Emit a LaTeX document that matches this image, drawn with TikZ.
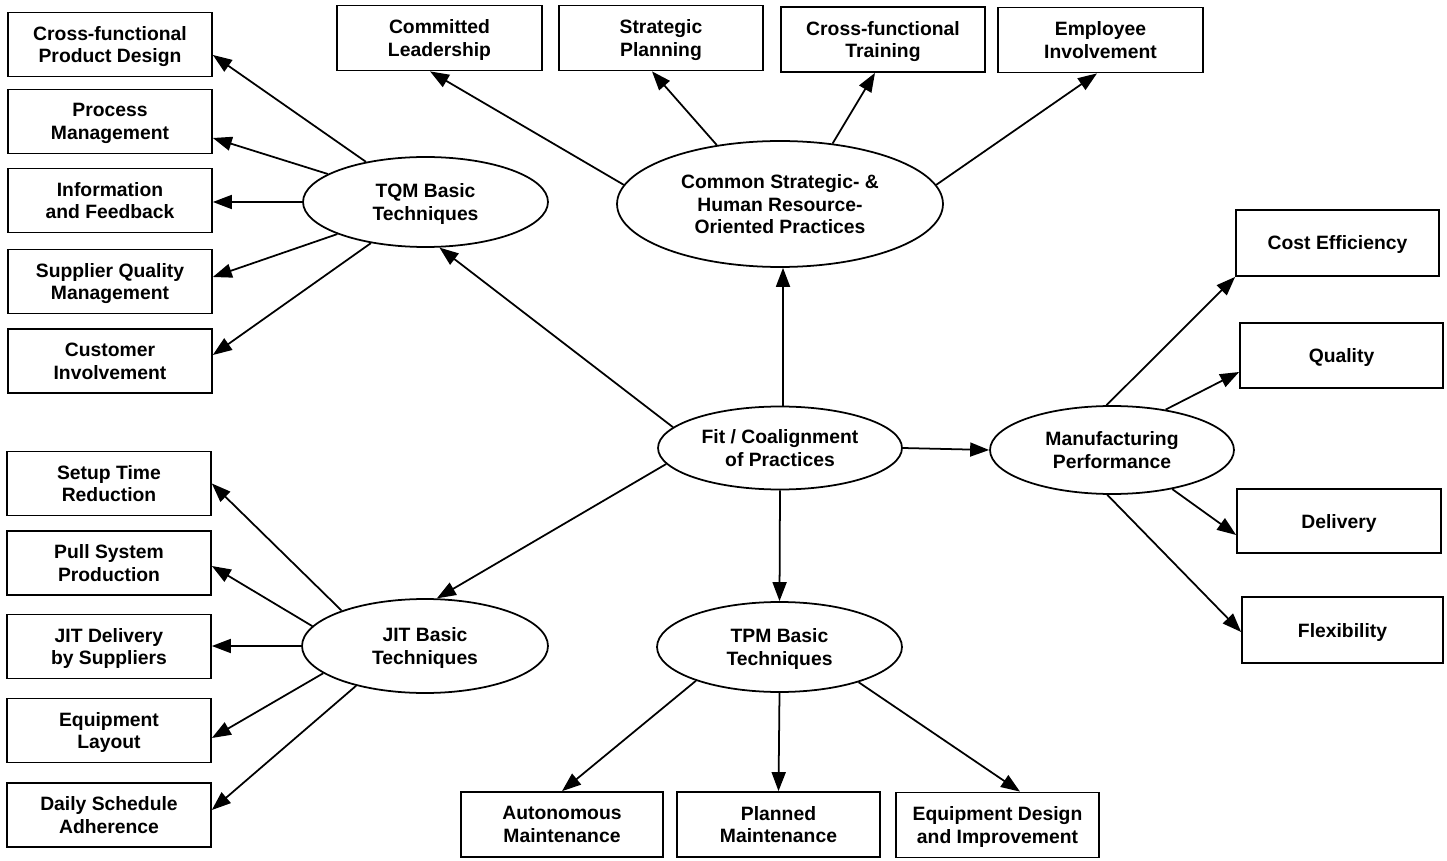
\documentclass[tikz,border=0pt]{standalone}
\usepackage{fontspec}
\setmainfont{Liberation Sans}
\usetikzlibrary{arrows.meta,calc,shapes.geometric}
\begin{document}
\begin{tikzpicture}[x=0.02cm,y=-0.02cm,
  every node/.style={font=\fontsize{11}{13}\selectfont\bfseries, align=center, text depth=0pt},
  box/.style={draw, line width=1pt, rectangle, minimum width=4.08cm, minimum height=1.28cm, inner sep=0pt},
  ell/.style={draw, line width=1pt, ellipse, inner sep=0pt},
  arr/.style={line width=1pt, -{Triangle[length=0.38cm,width=0.28cm]}}
]
\useasboundingbox (0,0) rectangle (1447,861);

% ellipses
\node[ell, minimum width=4.9cm, minimum height=1.8cm] (tqm) at (425.5,202) {TQM Basic\\Techniques};
\node[ell, minimum width=6.52cm, minimum height=2.52cm] (com) at (780,204) {Common Strategic- \&\\Human Resource-\\Oriented Practices};
\node[ell, minimum width=4.88cm, minimum height=1.66cm] (fit) at (780,448) {Fit / Coalignment\\of Practices};
\node[ell, minimum width=4.88cm, minimum height=1.76cm] (mfg) at (1112,450) {Manufacturing\\Performance};
\node[ell, minimum width=4.92cm, minimum height=1.88cm] (jit) at (425,646) {JIT Basic\\Techniques};
\node[ell, minimum width=4.9cm, minimum height=1.8cm] (tpm) at (779.5,647) {TPM Basic\\Techniques};

% TQM boxes
\node[box] (cfpd) at (110,44.5) {Cross-functional\\Product Design};
\node[box] (pm) at (110,121.5) {Process\\Management};
\node[box] (inf) at (110,200.5) {Information\\and Feedback};
\node[box] (sqm) at (110,281.5) {Supplier Quality\\Management};
\node[box] (ci) at (110,361) {Customer\\Involvement};

% JIT boxes
\node[box] (str) at (109,483.5) {Setup Time\\Reduction};
\node[box] (psp) at (109,563) {Pull System\\Production};
\node[box] (jitd) at (109,646.5) {JIT Delivery\\by Suppliers};
\node[box] (el) at (109,730.5) {Equipment\\Layout};
\node[box] (dsa) at (109,815) {Daily Schedule\\Adherence};

% top boxes
\node[box, minimum width=4.1cm, minimum height=1.3cm] (cl) at (439.5,38) {Committed\\Leadership};
\node[box, minimum width=4.08cm, minimum height=1.3cm] (sp) at (661,38) {Strategic\\Planning};
\node[box, minimum width=4.08cm, minimum height=1.3cm] (cft) at (883,39.5) {Cross-functional\\Training};
\node[box, minimum width=4.1cm, minimum height=1.3cm] (ei) at (1100.5,40) {Employee\\Involvement};

% right boxes
\node[box, minimum width=4.06cm, minimum height=1.32cm] (ce) at (1337.5,243) {Cost Efficiency};
\node[box, minimum width=4.06cm, minimum height=1.3cm] (q) at (1341.5,355.5) {Quality};
\node[box, minimum width=4.08cm, minimum height=1.28cm] (d) at (1339,521) {Delivery};
\node[box, minimum width=4.02cm, minimum height=1.32cm] (f) at (1342.5,630) {Flexibility};

% bottom boxes
\node[box, minimum width=4.04cm, minimum height=1.3cm] (am) at (562,824.5) {Autonomous\\Maintenance};
\node[box, minimum width=4.06cm, minimum height=1.3cm] (pmn) at (778.5,824.5) {Planned\\Maintenance};
\node[box, minimum width=4.06cm, minimum height=1.3cm] (edi) at (997.5,825) {Equipment Design\\and Improvement};

% TQM arrows
\draw[arr] (tqm.146.5) -- ($(cfpd.east)+(0,10.5)$);
\draw[arr] (tqm.164.3) -- ($(pm.east)+(0,16.5)$);
\draw[arr] (tqm.west) -- (tqm.west -| inf.east);
\draw[arr] (tqm.200.4) -- ($(sqm.east)+(0,-4.5)$);
\draw[arr] (tqm.217.5) -- ($(ci.east)+(0,-6)$);

% JIT arrows
\draw[arr] (jit.157.7) -- (str.east);
\draw[arr] (jit.170.6) -- ($(psp.east)+(0,3)$);
\draw[arr] (jit.west) -- (jit.west -| jitd.east);
\draw[arr] (jit.195.7) -- ($(el.east)+(0,7.5)$);
\draw[arr] (jit.210.4) -- ($(dsa.east)+(0,-5)$);

% common arrows
\draw[arr] (com.173.6) -- ($(cl.south)+(-9.5,0)$);
\draw[arr] (com.137.8) -- ($(sp.south)+(-9,0)$);
\draw[arr] (com.49.6) -- ($(cft.south)+(-8,0)$);
\draw[arr] (com.7.5) -- ($(ei.south)+(-3.5,0)$);

% fit arrows
\draw[arr] ($(fit.north)+(3,0)$) -- ($(com.south)+(3,0)$);
\draw[arr] (fit.169.2) -- (tqm.287.3);
\draw[arr] (fit.188.7) -- (jit.76);
\draw[arr] (fit.east) -- (mfg.west);
\draw[arr] (fit.south) -- (tpm.north);

% manufacturing arrows
\draw[arr] (mfg.97.6) -- (ce.south west);
\draw[arr] (mfg.37.5) -- ($(q.west)+(0,16.5)$);
\draw[arr] (mfg.-33.7) -- ($(d.west)+(0,14)$);
\draw[arr] (mfg.264) -- ($(f.west)+(0,2)$);

% TPM arrows
\draw[arr] (tpm.202.6) -- (am.north);
\draw[arr] (tpm.south) -- (pmn.north);
\draw[arr] (tpm.336.7) -- ($(edi.north)+(22.5,0)$);
\end{tikzpicture}
\end{document}
